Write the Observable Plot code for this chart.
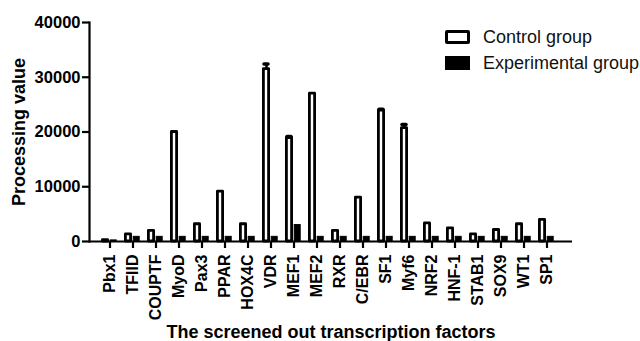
<!DOCTYPE html>
<html><head><meta charset="utf-8">
<script src="https://cdn.jsdelivr.net/npm/d3@7"></script>
<script src="https://cdn.jsdelivr.net/npm/@observablehq/plot@0.6"></script>
<style>
body{margin:0;background:#fff;}
#wrap{position:relative;width:640px;height:341px;font-family:"Liberation Sans",Arial,sans-serif;}
#legend{position:absolute;left:445px;top:24px;font-size:18px;color:#111;}
#legend .row{display:flex;align-items:center;height:26px;}
#legend .sw{width:19px;height:8px;margin-right:13px;box-sizing:content-box;}
#legend .c{border:3px solid #000;background:#fff;border-radius:2px;}
#legend .e{border:3px solid #000;background:#000;}
</style></head><body><div id="wrap"><div id="legend"></div></div>
<script>
const factors = ["Pbx1","TFIID","COUPTF","MyoD","Pax3","PPAR","HOX4C","VDR","MEF1","MEF2","RXR","C/EBR","SF1","Myf6","NRF2","HNF-1","STAB1","SOX9","WT1","SP1"];
const control = [250,1300,1950,20000,3150,9100,3150,31500,18900,27000,1950,8000,23900,20700,3300,2400,1300,2100,3150,3950];
const controlErr = [0,0,0,0,0,0,0,900,300,0,0,0,250,650,0,0,0,0,0,0];
const experimental = [200,850,850,850,850,850,850,850,3000,850,850,850,850,850,850,850,850,850,850,850];
const groups = ["Control group","Experimental group"];
const yTicks = [0,10000,20000,30000,40000];

const ctrl = factors.map((f,i)=>({factor:f, value:control[i], err:controlErr[i]}));
const expt = factors.map((f,i)=>({factor:f, value:experimental[i]}));
const errs = ctrl.filter(d=>d.err>0);

const plot = Plot.plot({
  width:640, height:341,
  marginLeft:89, marginRight:68, marginTop:22, marginBottom:100,
  style:{fontFamily:'"Liberation Sans", Arial, sans-serif', fontSize:"16px", fontWeight:"bold", color:"#000", background:"#fff"},
  x:{type:"band", domain:factors, padding:0, insetRight:6},
  y:{domain:[0,40000]},
  marks:[
    Plot.ruleX(errs, {x:"factor", y1:"value", y2:d=>d.value+d.err, dx:-4.5, strokeWidth:2.5, stroke:"#000"}),
    Plot.tickY(errs, {x:"factor", y:d=>d.value+d.err, insetLeft:5, insetRight:14, strokeWidth:3.5, stroke:"#000", strokeLinecap:"round"}),
    Plot.barY(ctrl, {x:"factor", y:"value", fill:"#fff", stroke:"#000", strokeWidth:2.8, strokeLinejoin:"round", insetLeft:4.4, insetRight:13.4}),
    Plot.barY(expt, {x:"factor", y:"value", fill:"#000", stroke:"#000", strokeWidth:1, insetLeft:12.2, insetRight:4.8}),
    Plot.ruleY([0], {strokeWidth:2.2, stroke:"#000"}),
    Plot.frame({anchor:"left", strokeWidth:2.2, stroke:"#000"}),
    Plot.axisY({ticks:yTicks, tickFormat:d=>String(d), tickSize:7, tickPadding:2, strokeWidth:2.2, fontSize:16.5, label:null}),
    Plot.axisY({ticks:[], label:"Processing value", labelAnchor:"center", labelOffset:77, labelArrow:"none", fontSize:18}),
    Plot.axisX({tickRotate:-90, tickSize:7, tickPadding:6, strokeWidth:2.2, fontSize:16, label:null}),
    Plot.axisX({ticks:[], label:"The screened out transcription factors", labelAnchor:"center", labelOffset:96, labelArrow:"none", fontSize:18})
  ]
});
document.getElementById("wrap").prepend(plot);

const legend = document.getElementById("legend");
groups.forEach((g,i)=>{
  const row = document.createElement("div");
  row.className = "row";
  const sw = document.createElement("span");
  sw.className = "sw " + (i===0 ? "c" : "e");
  const t = document.createElement("span");
  t.textContent = g;
  row.append(sw, t);
  legend.append(row);
});
</script>
</body></html>
